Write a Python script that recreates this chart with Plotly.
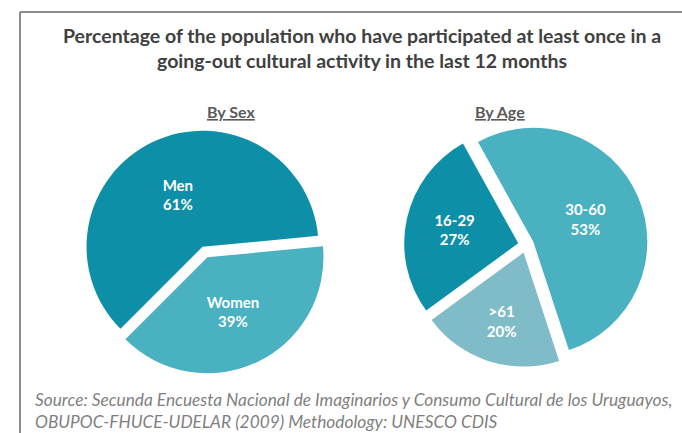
import plotly.graph_objects as go

# Survey shares (percent)
sex_labels = ["Men", "Women"]
sex_values = [61, 39]
age_labels = ["30-60", ">61", "16-29"]
age_values = [53, 20, 27]

W, H = 682, 433

sex_colors = ["#0E8FA8", "#4AB1C1"]
age_colors = ["#4AB1C1", "#80BCC8", "#0E8FA8"]


def box_domain(cx, cy, half):
    """Square pie box centred on (cx, cy) in pixels, as paper fractions."""
    return dict(
        x=[(cx - half) / W, (cx + half) / W],
        y=[1 - (cy + half) / H, 1 - (cy - half) / H],
    )


label_font = dict(family="Lato", size=15, color="white", weight="bold")

fig = go.Figure()

fig.add_trace(go.Pie(
    labels=sex_labels,
    values=sex_values,
    sort=False,
    direction="clockwise",
    rotation=225,
    pull=[0.05, 0.05],
    marker=dict(colors=sex_colors, line=dict(width=0)),
    texttemplate="%{label}<br>%{value}%",
    textposition="inside",
    insidetextorientation="horizontal",
    insidetextfont=label_font,
    hoverinfo="label+value",
    showlegend=False,
    domain=box_domain(205, 252, 116 * 1.05),
))

fig.add_trace(go.Pie(
    labels=age_labels,
    values=age_values,
    sort=False,
    direction="clockwise",
    rotation=-29,
    pull=[0.07, 0.07, 0.07],
    marker=dict(colors=age_colors, line=dict(width=0)),
    texttemplate="%{label}<br>%{value}%",
    textposition="inside",
    insidetextorientation="horizontal",
    insidetextfont=label_font,
    hoverinfo="label+value",
    showlegend=False,
    domain=box_domain(526, 245, 114 * 1.07),
))

# Frame along the top and left edges
frame = dict(type="line", xref="paper", yref="paper",
             line=dict(color="#8C8C8C", width=2))
fig.add_shape(**frame, x0=20 / W, y0=1 - 12 / H, x1=1, y1=1 - 12 / H)
fig.add_shape(**frame, x0=20 / W, y0=1 - 12 / H, x1=20 / W, y1=0)

title_font = dict(family="Lato", size=19.5, color="#404040", weight="bold")
fig.add_annotation(
    text="Percentage of the population who have participated at least once in a"
         "<br>going-out cultural activity in the last 12 months",
    x=362 / W, y=1 - 48 / H, xref="paper", yref="paper",
    xanchor="center", yanchor="middle", showarrow=False,
    font=title_font,
)

sub_font = dict(family="Lato", size=16, color="#595959", weight="bold")
fig.add_annotation(text="<u>By Sex</u>", x=205 / W, y=1 - 111 / H,
                   xref="paper", yref="paper", yanchor="middle",
                   showarrow=False, font=sub_font)
fig.add_annotation(text="<u>By Age</u>", x=527 / W, y=1 - 111 / H,
                   xref="paper", yref="paper", yanchor="middle",
                   showarrow=False, font=sub_font)

fig.add_annotation(
    text="<i>Source: Secunda Encuesta Nacional de Imaginarios y Consumo Cultural de los Uruguayos,"
         "<br>OBUPOC-FHUCE-UDELAR (2009) Methodology: UNESCO CDIS</i>",
    x=33 / W, y=1 - 410 / H, xref="paper", yref="paper",
    xanchor="left", yanchor="middle", align="left", showarrow=False,
    font=dict(family="Lato", size=17.3, color="#7F7F7F"),
)

fig.update_layout(
    width=W, height=H,
    margin=dict(l=0, r=0, t=0, b=0),
    paper_bgcolor="white",
    plot_bgcolor="white",
)

fig.write_html("out.html")
